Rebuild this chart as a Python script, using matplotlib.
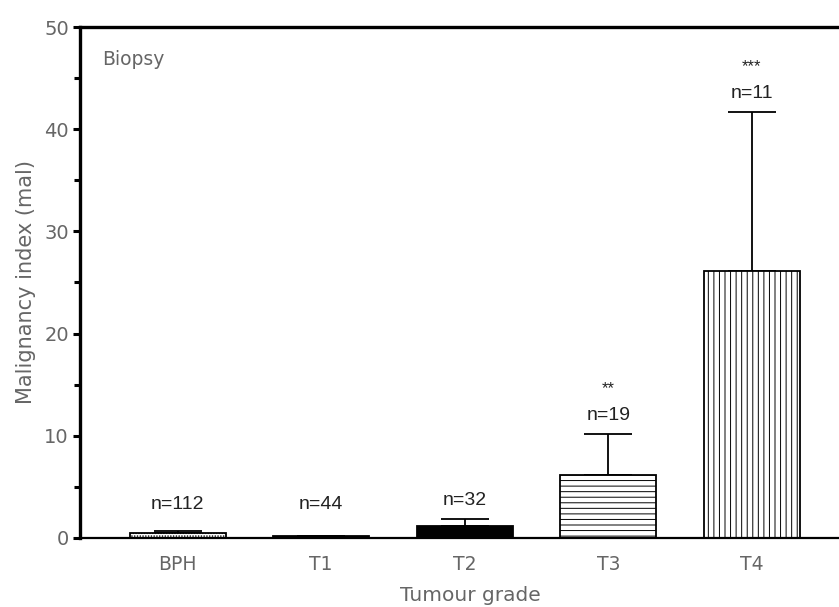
import numpy as np
import matplotlib
matplotlib.use('Agg')
import matplotlib.pyplot as plt
from matplotlib.ticker import MultipleLocator

# data
grades = ['BPH', 'T1', 'T2', 'T3', 'T4']
mal_mean = [0.45, 0.15, 1.2, 6.2, 26.1]
mal_err = [0.25, 0.05, 0.65, 4.0, 15.6]
n_labels = ['n=112', 'n=44', 'n=32', 'n=19', 'n=11']
signif = ['', '', '', '**', '***']
hatches = ['......', '', '', '---', '|||']
fills = ['white', 'black', 'black', 'white', 'white']

plt.rcParams['hatch.linewidth'] = 0.7
grey = '#666666'
sans = 'DejaVu Sans'

fig = plt.figure(figsize=(8.39, 6.07), dpi=100)
ax = fig.add_axes([0.0954, 0.1137, 0.93, 0.8418])

x = np.arange(len(grades))
ax.bar(x, mal_mean, width=0.67, color=fills, edgecolor='black',
       linewidth=1.3, hatch=hatches, zorder=2)
ax.errorbar(x, mal_mean, yerr=[np.zeros(len(x)), mal_err], fmt='none',
            ecolor='black', elinewidth=1.3, capsize=17, capthick=1.3, zorder=1)

# n= and significance labels above the caps
for i in range(len(x)):
    ny = max(mal_mean[i] + mal_err[i] + 1.8, 3.3)
    ax.text(x[i], ny, n_labels[i], ha='center', va='center', fontsize=14,
            color='#222222', family='Liberation Sans')
    if signif[i]:
        ax.text(x[i], ny + 2.6, signif[i], ha='center', va='center', fontsize=12,
                color='#222222', family='Liberation Sans')

ax.set_xlim(-0.68, 4.756)
ax.set_ylim(0, 50)
ax.yaxis.set_major_locator(MultipleLocator(10))
ax.yaxis.set_minor_locator(MultipleLocator(5))
ax.set_xticks(x)
ax.set_xticklabels(grades)

ax.spines['right'].set_visible(False)
ax.spines['left'].set_linewidth(2.4)
ax.spines['top'].set_linewidth(2.4)
ax.spines['bottom'].set_linewidth(1.6)

ax.tick_params(axis='y', which='major', direction='out', length=5, width=2.2,
               labelsize=14, labelcolor=grey, pad=3)
ax.tick_params(axis='y', which='minor', direction='out', length=4, width=2.2)
ax.tick_params(axis='x', length=0, labelsize=13.5, labelcolor=grey, pad=12)
for lab in ax.get_xticklabels() + ax.get_yticklabels():
    lab.set_family(sans)

ax.set_ylabel('Malignancy index (mal)', fontsize=15, color=grey, family=sans, labelpad=6)
ax.set_xlabel('Tumour grade', fontsize=14.5, color=grey, family=sans, labelpad=9)
ax.text(0.028, 0.955, 'Biopsy', transform=ax.transAxes, fontsize=13.5, color=grey,
        family=sans, ha='left', va='top')

fig.savefig('out.png', dpi=100)
